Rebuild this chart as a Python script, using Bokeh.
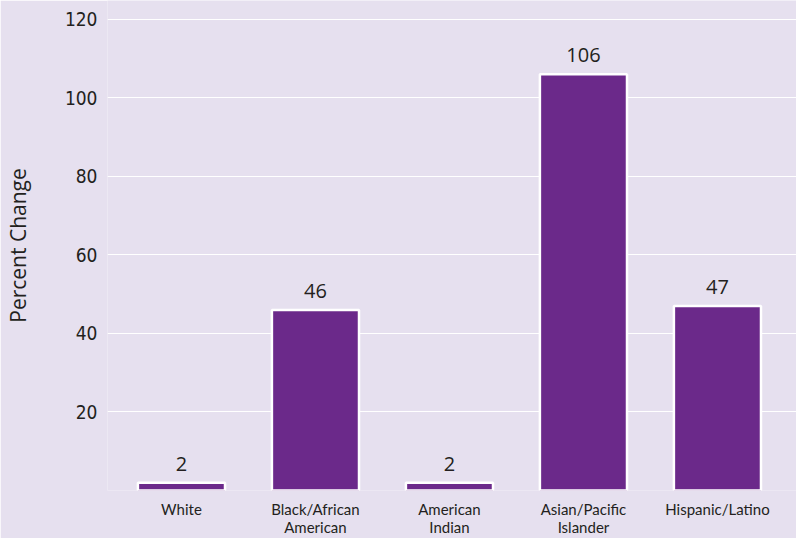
from bokeh.plotting import figure
from bokeh.models import ColumnDataSource, FixedTicker, Range1d
from bokeh.core.properties import value
from bokeh.embed import file_html
from bokeh.resources import INLINE

categories = ["White", "Black/African\nAmerican", "American\nIndian", "Asian/Pacific\nIslander", "Hispanic/Latino"]
percent_change = [2, 46, 2, 106, 47]
y_ticks = [20, 40, 60, 80, 100, 120]

BG = "#e6e0ef"
BAR = "#6b298a"

xs = list(range(len(categories)))
src = ColumnDataSource(dict(x=xs, y=percent_change, label=[str(v) for v in percent_change]))

p = figure(width=796, height=538, output_backend="svg", toolbar_location=None,
           x_range=Range1d(-0.552, 4.59), y_range=Range1d(0, 124.8),
           background_fill_color=BG, border_fill_color=BG, outline_line_color=None,
           min_border_left=107, min_border_right=0, min_border_top=0, min_border_bottom=48)

p.vbar(x="x", top="y", width=0.65, bottom=0, source=src, fill_color=BAR,
       line_color="white", line_width=2.5)
p.text(x="x", y="y", text="label", source=src, text_align="center", text_baseline="bottom",
       y_offset=-12, text_font=value("Open Sans"), text_font_size="20px", text_color="#231f20")

p.xgrid.grid_line_color = None
p.ygrid.grid_line_color = "white"
p.ygrid.grid_line_width = 1.2
p.yaxis.ticker = FixedTicker(ticks=y_ticks)
p.xaxis.ticker = FixedTicker(ticks=xs)
p.xaxis.major_label_overrides = {i: c for i, c in enumerate(categories)}

for ax in (p.xaxis, p.yaxis):
    ax.axis_line_color = None
    ax.major_tick_line_color = None
    ax.minor_tick_line_color = None
    ax.major_tick_out = 0
    ax.minor_tick_out = 0
    ax.major_label_text_color = "#231f20"

p.yaxis.major_label_text_font = "DejaVu Sans Condensed"
p.yaxis.major_label_text_font_size = "19px"
p.yaxis.major_label_standoff = 10
p.yaxis.axis_label = "Percent Change"
p.yaxis.axis_label_text_font = "Open Sans"
p.yaxis.axis_label_text_font_style = "normal"
p.yaxis.axis_label_text_font_size = "21px"
p.yaxis.axis_label_text_color = "#231f20"
p.yaxis.axis_label_standoff = 30

p.xaxis.major_label_text_font = "Lato"
p.xaxis.major_label_text_font_size = "15px"
p.xaxis.major_label_text_line_height = 1.0
p.xaxis.major_label_standoff = 9

open("out.html", "w").write(file_html(p, INLINE))
